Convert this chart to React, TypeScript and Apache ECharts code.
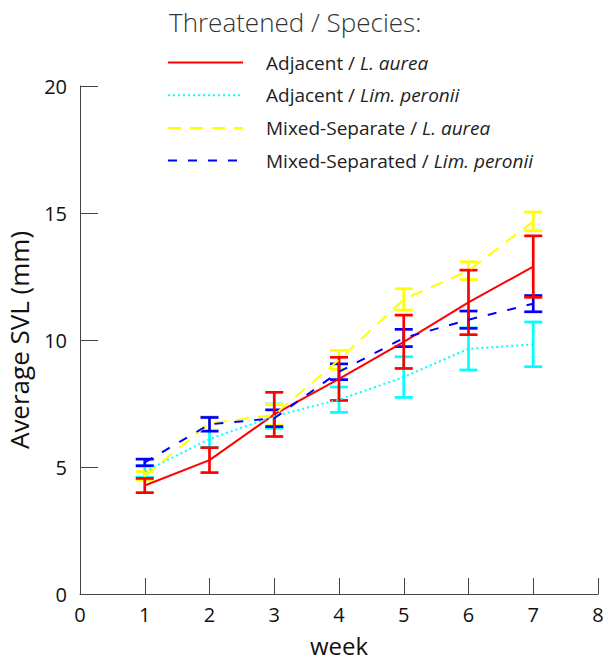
import React, { useEffect, useRef } from "react";
import * as echarts from "echarts";

const weeks = [1, 2, 3, 4, 5, 6, 7];
const xTicks = [0, 1, 2, 3, 4, 5, 6, 7, 8];
const yTicks = [0, 5, 10, 15, 20];

const adjAureaMean = [4.27, 5.27, 7.07, 8.47, 9.93, 11.48, 12.89];
const adjAureaErr = [0.28, 0.49, 0.87, 0.85, 1.05, 1.27, 1.21];
const adjPeroniiMean = [4.82, 6.1, 7.0, 7.65, 8.54, 9.65, 9.83];
const adjPeroniiErr = [0.22, 0.33, 0.48, 0.5, 0.8, 0.83, 0.88];
const mixAureaMean = [4.65, 6.72, 7.05, 9.22, 11.6, 12.73, 14.67];
const mixAureaErr = [0.17, 0.27, 0.42, 0.37, 0.42, 0.35, 0.37];
const mixPeroniiMean = [5.18, 6.68, 6.92, 8.75, 10.08, 10.8, 11.43];
const mixPeroniiErr = [0.13, 0.27, 0.33, 0.31, 0.34, 0.34, 0.32];

const groups = [
  { name: "Adjacent / ", sp: "L. aurea", mean: adjAureaMean, err: adjAureaErr, color: "#ff0000", dash: "solid" as any },
  { name: "Adjacent / ", sp: "Lim. peronii", mean: adjPeroniiMean, err: adjPeroniiErr, color: "#00ffff", dash: [2, 3] },
  { name: "Mixed-Separate / ", sp: "L. aurea", mean: mixAureaMean, err: mixAureaErr, color: "#ffff00", dash: [13, 9] },
  { name: "Mixed-Separated / ", sp: "Lim. peronii", mean: mixPeroniiMean, err: mixPeroniiErr, color: "#0000ff", dash: [9, 11] },
];

const FONT = "Open Sans";

export default function App() {
  const ref = useRef<HTMLDivElement>(null);
  useEffect(() => {
    document.body.style.margin = "0";
    const chart = echarts.init(ref.current!, null, { renderer: "svg" });
    const drawOrder = [1, 2, 3, 0];
    const errSeries = drawOrder.map((gi) => {
      const g = groups[gi];
      return {
        type: "custom",
        name: "err" + gi,
        z: 2,
        data: weeks.map((w, i) => [w, g.mean[i] - g.err[i], g.mean[i] + g.err[i]]),
        encode: { x: 0, y: [1, 2] },
        renderItem: (params: any, api: any) => {
          const x = api.value(0);
          const lo = api.coord([x, api.value(1)]);
          const hi = api.coord([x, api.value(2)]);
          const hw = 9;
          const st = { stroke: g.color, lineWidth: 2.7 };
          return {
            type: "group",
            children: [
              { type: "line", shape: { x1: lo[0], y1: lo[1], x2: hi[0], y2: hi[1] }, style: st },
              { type: "line", shape: { x1: lo[0] - hw, y1: lo[1], x2: lo[0] + hw, y2: lo[1] }, style: st },
              { type: "line", shape: { x1: hi[0] - hw, y1: hi[1], x2: hi[0] + hw, y2: hi[1] }, style: st },
            ],
          };
        },
        silent: true,
      };
    });
    const lineSeries = groups.map((g, gi) => ({
      type: "line",
      name: "s" + gi,
      z: 3,
      symbol: "none",
      showSymbol: false,
      data: weeks.map((w, i) => [w, g.mean[i]]),
      lineStyle: { color: g.color, width: 2, type: g.dash },
      itemStyle: { color: g.color },
    }));
    const axisCol = "#444";
    chart.setOption({
      animation: false,
      textStyle: { fontFamily: FONT },
      title: {
        text: "Threatened / Species:",
        left: 169,
        top: 9,
        padding: 0,
        textStyle: { fontFamily: FONT, fontSize: 26, fontWeight: 300, color: "#333" },
      },
      legend: {
        orient: "vertical",
        left: 167,
        top: 53,
        padding: 0,
        itemWidth: 75,
        itemHeight: 14,
        itemGap: 13.7,
        itemStyle: { opacity: 0 },
        data: groups.map((g, gi) => "s" + gi),
        formatter: (name: string) => {
          const g = groups[Number(name.slice(1))];
          return "{n|" + g.name + "}{i|" + g.sp + "}";
        },
        textStyle: {
          padding: [0, 0, 0, 18],
          rich: {
            n: { fontFamily: FONT, fontSize: 19, color: "#222", lineHeight: 22 },
            i: { fontFamily: FONT, fontSize: 19, fontStyle: "italic", color: "#222", lineHeight: 22 },
          },
        },
      },
      grid: { left: 80, right: 10, top: 86, bottom: 68, outerBoundsMode: "none", containLabel: false },
      xAxis: {
        type: "value",
        min: xTicks[0],
        max: xTicks[xTicks.length - 1],
        interval: 1,
        name: "week",
        nameLocation: "middle",
        nameGap: 39,
        nameTextStyle: { fontFamily: FONT, fontSize: 24, color: "#111" },
        axisLine: { show: true, lineStyle: { color: axisCol, width: 1 } },
        axisTick: { show: true, inside: true, length: 16, lineStyle: { color: axisCol } },
        axisLabel: { fontFamily: FONT, fontSize: 20, color: "#111", margin: 10 },
        splitLine: { show: false },
      },
      yAxis: {
        type: "value",
        min: yTicks[0],
        max: yTicks[yTicks.length - 1],
        interval: 5,
        name: "Average SVL (mm)",
        nameLocation: "middle",
        nameGap: 46,
        nameTextStyle: { fontFamily: FONT, fontSize: 26, color: "#111", lineHeight: 28 },
        axisLine: { show: true, lineStyle: { color: axisCol, width: 1 } },
        axisTick: { show: true, inside: true, length: 18, lineStyle: { color: axisCol } },
        axisLabel: { fontFamily: FONT, fontSize: 20, color: "#111", margin: 13 },
        splitLine: { show: false },
      },
      series: [...errSeries, ...lineSeries],
    });
    return () => chart.dispose();
  }, []);
  return <div ref={ref} style={{ width: 608, height: 662 }} />;
}
